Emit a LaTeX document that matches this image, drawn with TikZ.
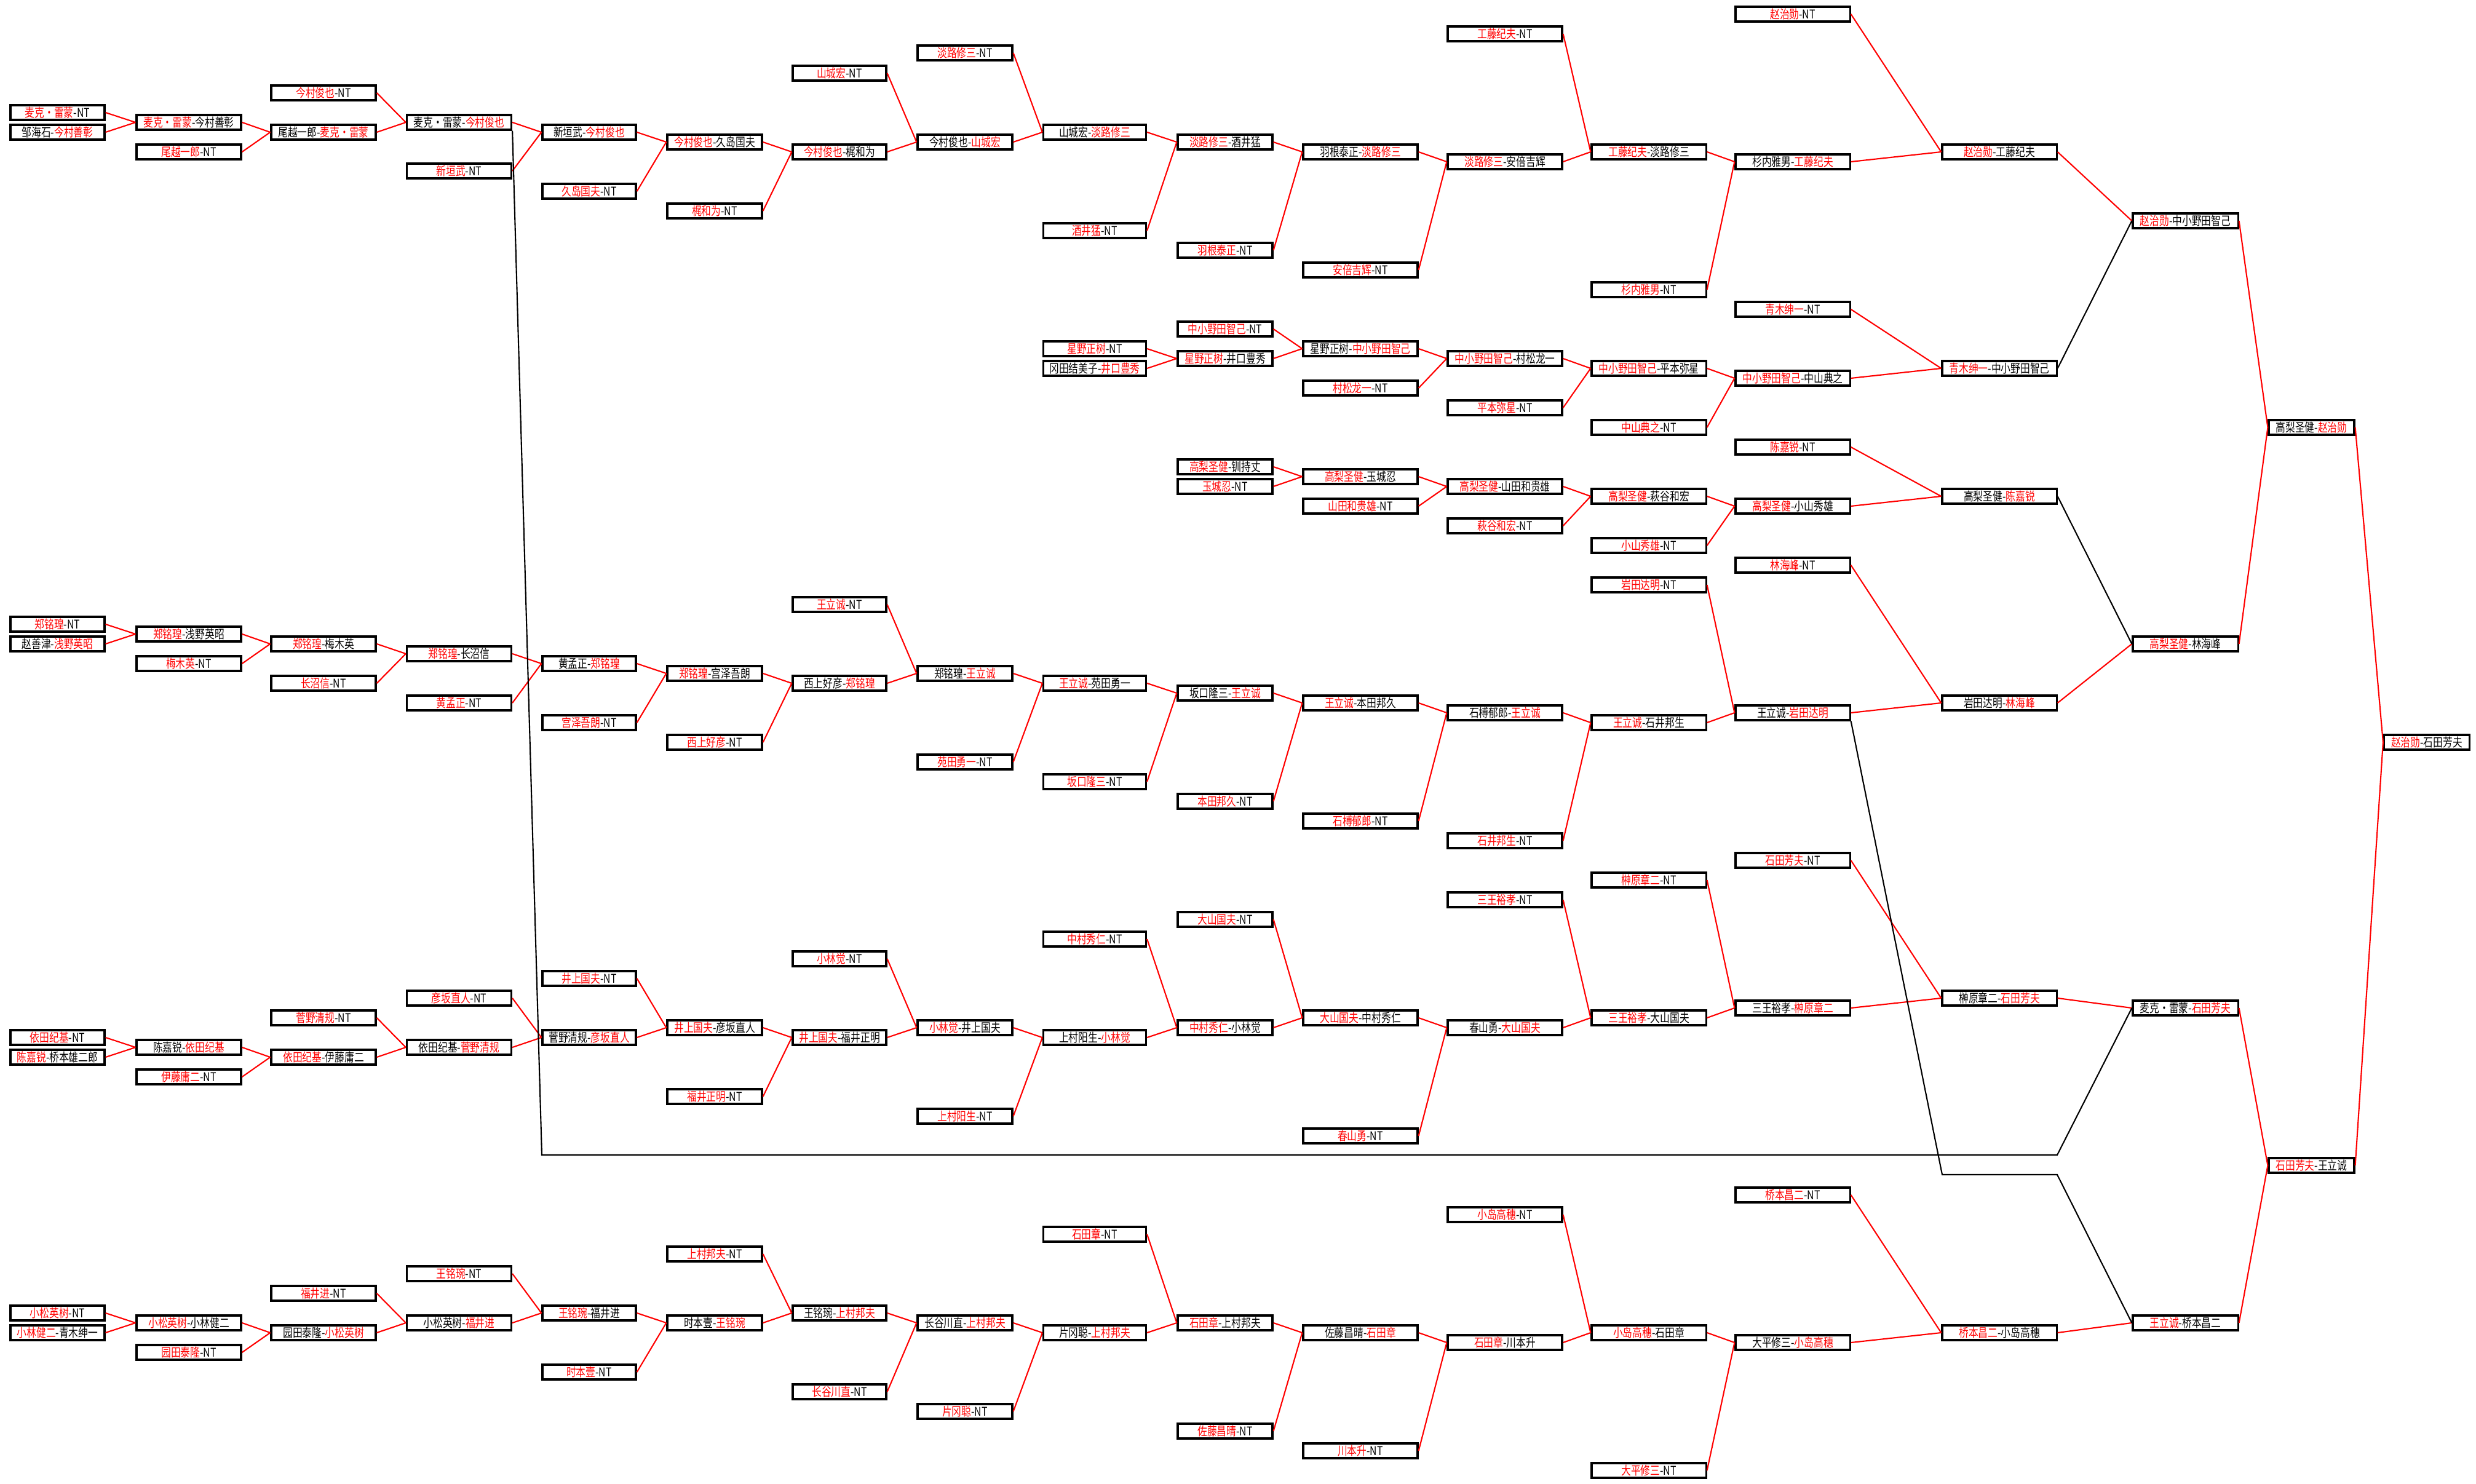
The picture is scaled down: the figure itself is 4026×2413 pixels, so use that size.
\documentclass[tikz,border=0pt]{standalone}
\usepackage{fontspec}
\setmainfont[FakeStretch=0.8]{Noto Sans CJK SC}
\usepackage{tikz}
\newcommand{\winner}[1]{\textcolor{red}{#1}}
\usetikzlibrary{positioning}
\tikzstyle{pbox} = [draw=black, line width=0.9pt, fill=white, rectangle, inner sep=0pt, minimum height=0.24cm, font=\fontsize{5.6}{6}\selectfont]
\tikzstyle{won} = [draw=red, line width=0.6pt]
\tikzstyle{lost} = [draw=black, line width=0.6pt]
\tikzstyle{w1} = [pbox, minimum width=1.53cm]
\tikzstyle{w2} = [pbox, minimum width=1.70cm]
\tikzstyle{w5} = [pbox, minimum width=1.52cm]
\tikzstyle{w6} = [pbox, minimum width=1.54cm]
\tikzstyle{w9} = [pbox, minimum width=1.67cm]
\tikzstyle{w11} = [pbox, minimum width=1.86cm]
\tikzstyle{w16} = [pbox, minimum width=1.71cm]
\tikzstyle{w17} = [pbox, minimum width=1.39cm]

\begin{document}
\begin{tikzpicture}[x=0.01cm, y=-0.01cm]
	\fill[white] (0,0) rectangle (4026,2413);
	\useasboundingbox (0,0) rectangle (4026,2413);
	% column 1
	\node[w1] (c1a) at (93.5,183) {\winner{麦克・雷蒙}-NT};
	\node[w1] (c1b) at (93.5,215) {邹海石-\winner{今村善彰}};
	\node[w1] (c1c) at (93.5,1015) {\winner{郑铭瑝}-NT};
	\node[w1] (c1d) at (93.5,1047) {赵善津-\winner{浅野英昭}};
	\node[w1] (c1e) at (93.5,1687) {\winner{依田纪基}-NT};
	\node[w1] (c1f) at (93.5,1719) {\winner{陈嘉锐}-桥本雄二郎};
	\node[w1] (c1g) at (93.5,2135) {\winner{小松英树}-NT};
	\node[w1] (c1h) at (93.5,2167) {\winner{小林健二}-青木绅一};
	% column 2
	\node[w2] (c2a) at (307,199) {\winner{麦克・雷蒙}-今村善彰};
	\node[w2] (c2b) at (307,247) {\winner{尾越一郎}-NT};
	\node[w2] (c2c) at (307,1031) {\winner{郑铭瑝}-浅野英昭};
	\node[w2] (c2d) at (307,1079) {\winner{梅木英}-NT};
	\node[w2] (c2e) at (307,1703) {陈嘉锐-\winner{依田纪基}};
	\node[w2] (c2f) at (307,1751) {\winner{伊藤庸二}-NT};
	\node[w2] (c2g) at (307,2151) {\winner{小松英树}-小林健二};
	\node[w2] (c2h) at (307,2199) {\winner{园田泰隆}-NT};
	% column 3
	\node[w2] (c3a) at (526,151) {\winner{今村俊也}-NT};
	\node[w2] (c3b) at (526,215) {尾越一郎-\winner{麦克・雷蒙}};
	\node[w2] (c3c) at (526,1047) {\winner{郑铭瑝}-梅木英};
	\node[w2] (c3d) at (526,1111) {\winner{长沼信}-NT};
	\node[w2] (c3e) at (526,1655) {\winner{菅野清规}-NT};
	\node[w2] (c3f) at (526,1719) {\winner{依田纪基}-伊藤庸二};
	\node[w2] (c3g) at (526,2103) {\winner{福井进}-NT};
	\node[w2] (c3h) at (526,2167) {园田泰隆-\winner{小松英树}};
	% column 4
	\node[w2] (c4a) at (746.5,199) {麦克・雷蒙-\winner{今村俊也}};
	\node[w2] (c4b) at (746.5,278) {\winner{新垣武}-NT};
	\node[w2] (c4c) at (746.5,1063) {\winner{郑铭瑝}-长沼信};
	\node[w2] (c4d) at (746.5,1143) {\winner{黄孟正}-NT};
	\node[w2] (c4e) at (746.5,1623) {\winner{彦坂直人}-NT};
	\node[w2] (c4f) at (746.5,1703) {依田纪基-\winner{菅野清规}};
	\node[w2] (c4g) at (746.5,2071) {\winner{王铭琬}-NT};
	\node[w2] (c4h) at (746.5,2151) {小松英树-\winner{福井进}};
	% column 5
	\node[w5] (c5a) at (958,215) {新垣武-\winner{今村俊也}};
	\node[w5] (c5b) at (958,311) {\winner{久岛国夫}-NT};
	\node[w5] (c5c) at (958,1079) {黄孟正-\winner{郑铭瑝}};
	\node[w5] (c5d) at (958,1175) {\winner{宫泽吾朗}-NT};
	\node[w5] (c5e) at (958,1591) {\winner{井上国夫}-NT};
	\node[w5] (c5f) at (958,1687) {菅野清规-\winner{彦坂直人}};
	\node[w5] (c5g) at (958,2135) {\winner{王铭琬}-福井进};
	\node[w5] (c5h) at (958,2231) {\winner{时本壹}-NT};
	% column 6
	\node[w6] (c6a) at (1162,231) {\winner{今村俊也}-久岛国夫};
	\node[w6] (c6b) at (1162,343) {\winner{梶和为}-NT};
	\node[w6] (c6c) at (1162,1095) {\winner{郑铭瑝}-宫泽吾朗};
	\node[w6] (c6d) at (1162,1207) {\winner{西上好彦}-NT};
	\node[w6] (c6e) at (1162,1671) {\winner{井上国夫}-彦坂直人};
	\node[w6] (c6f) at (1162,1783) {\winner{福井正明}-NT};
	\node[w6] (c6g) at (1162,2039) {\winner{上村邦夫}-NT};
	\node[w6] (c6h) at (1162,2151) {时本壹-\winner{王铭琬}};
	% column 7
	\node[w5] (c7a) at (1365,119) {\winner{山城宏}-NT};
	\node[w5] (c7b) at (1365,247) {\winner{今村俊也}-梶和为};
	\node[w5] (c7c) at (1365,983) {\winner{王立诚}-NT};
	\node[w5] (c7d) at (1365,1111) {西上好彦-\winner{郑铭瑝}};
	\node[w5] (c7e) at (1365,1559) {\winner{小林觉}-NT};
	\node[w5] (c7f) at (1365,1687) {\winner{井上国夫}-福井正明};
	\node[w5] (c7g) at (1365,2135) {王铭琬-\winner{上村邦夫}};
	\node[w5] (c7h) at (1365,2263) {\winner{长谷川直}-NT};
	% column 8
	\node[w6] (c8a) at (1569,86) {\winner{淡路修三}-NT};
	\node[w6] (c8b) at (1569,231) {今村俊也-\winner{山城宏}};
	\node[w6] (c8c) at (1569,1095) {郑铭瑝-\winner{王立诚}};
	\node[w6] (c8d) at (1569,1239) {\winner{苑田勇一}-NT};
	\node[w6] (c8e) at (1569,1671) {\winner{小林觉}-井上国夫};
	\node[w6] (c8f) at (1569,1815) {\winner{上村阳生}-NT};
	\node[w6] (c8g) at (1569,2151) {长谷川直-\winner{上村邦夫}};
	\node[w6] (c8h) at (1569,2295) {\winner{片冈聪}-NT};
	% column 9
	\node[w9] (c9a) at (1780,215) {山城宏-\winner{淡路修三}};
	\node[w9] (c9b) at (1780,375) {\winner{酒井猛}-NT};
	\node[w9] (c9c) at (1780,567) {\winner{星野正树}-NT};
	\node[w9] (c9d) at (1780,599) {冈田结美子-\winner{井口豊秀}};
	\node[w9] (c9e) at (1780,1111) {\winner{王立诚}-苑田勇一};
	\node[w9] (c9f) at (1780,1271) {\winner{坂口隆三}-NT};
	\node[w9] (c9g) at (1780,1527) {\winner{中村秀仁}-NT};
	\node[w9] (c9h) at (1780,1687) {上村阳生-\winner{小林觉}};
	\node[w9] (c9i) at (1780,2007) {\winner{石田章}-NT};
	\node[w9] (c9j) at (1780,2167) {片冈聪-\winner{上村邦夫}};
	% column 10
	\node[w6] (c10a) at (1992,231) {\winner{淡路修三}-酒井猛};
	\node[w6] (c10b) at (1992,407) {\winner{羽根泰正}-NT};
	\node[w6] (c10c) at (1992,535) {\winner{中小野田智己}-NT};
	\node[w6] (c10d) at (1992,583) {\winner{星野正树}-井口豊秀};
	\node[w6] (c10e) at (1992,759) {\winner{高梨圣健}-钏持丈};
	\node[w6] (c10f) at (1992,791) {\winner{玉城忍}-NT};
	\node[w6] (c10g) at (1992,1127) {坂口隆三-\winner{王立诚}};
	\node[w6] (c10h) at (1992,1303) {\winner{本田邦久}-NT};
	\node[w6] (c10i) at (1992,1495) {\winner{大山国夫}-NT};
	\node[w6] (c10j) at (1992,1671) {\winner{中村秀仁}-小林觉};
	\node[w6] (c10k) at (1992,2151) {\winner{石田章}-上村邦夫};
	\node[w6] (c10l) at (1992,2327) {\winner{佐藤昌晴}-NT};
	% column 11
	\node[w11] (c11a) at (2212,247) {羽根泰正-\winner{淡路修三}};
	\node[w11] (c11b) at (2212,439) {\winner{安倍吉辉}-NT};
	\node[w11] (c11c) at (2212,567) {星野正树-\winner{中小野田智己}};
	\node[w11] (c11d) at (2212,631) {\winner{村松龙一}-NT};
	\node[w11] (c11e) at (2212,775) {\winner{高梨圣健}-玉城忍};
	\node[w11] (c11f) at (2212,823) {\winner{山田和贵雄}-NT};
	\node[w11] (c11g) at (2212,1143) {\winner{王立诚}-本田邦久};
	\node[w11] (c11h) at (2212,1335) {\winner{石榑郁郎}-NT};
	\node[w11] (c11i) at (2212,1655) {\winner{大山国夫}-中村秀仁};
	\node[w11] (c11j) at (2212,1847) {\winner{春山勇}-NT};
	\node[w11] (c11k) at (2212,2167) {佐藤昌晴-\winner{石田章}};
	\node[w11] (c11l) at (2212,2359) {\winner{川本升}-NT};
	% column 12
	\node[w11] (c12a) at (2447,55) {\winner{工藤纪夫}-NT};
	\node[w11] (c12b) at (2447,263) {\winner{淡路修三}-安倍吉辉};
	\node[w11] (c12c) at (2447,583) {\winner{中小野田智己}-村松龙一};
	\node[w11] (c12d) at (2447,663) {\winner{平本弥星}-NT};
	\node[w11] (c12e) at (2447,791) {\winner{高梨圣健}-山田和贵雄};
	\node[w11] (c12f) at (2447,855) {\winner{萩谷和宏}-NT};
	\node[w11] (c12g) at (2447,1159) {石榑郁郎-\winner{王立诚}};
	\node[w11] (c12h) at (2447,1367) {\winner{石井邦生}-NT};
	\node[w11] (c12i) at (2447,1463) {\winner{三王裕孝}-NT};
	\node[w11] (c12j) at (2447,1671) {春山勇-\winner{大山国夫}};
	\node[w11] (c12k) at (2447,1975) {\winner{小岛高穗}-NT};
	\node[w11] (c12l) at (2447,2183) {\winner{石田章}-川本升};
	% column 13
	\node[w11] (c13a) at (2681,247) {\winner{工藤纪夫}-淡路修三};
	\node[w11] (c13b) at (2681,471) {\winner{杉内雅男}-NT};
	\node[w11] (c13c) at (2681,599) {\winner{中小野田智己}-平本弥星};
	\node[w11] (c13d) at (2681,695) {\winner{中山典之}-NT};
	\node[w11] (c13e) at (2681,807) {\winner{高梨圣健}-萩谷和宏};
	\node[w11] (c13f) at (2681,887) {\winner{小山秀雄}-NT};
	\node[w11] (c13g) at (2681,951) {\winner{岩田达明}-NT};
	\node[w11] (c13h) at (2681,1175) {\winner{王立诚}-石井邦生};
	\node[w11] (c13i) at (2681,1431) {\winner{榊原章二}-NT};
	\node[w11] (c13j) at (2681,1655) {\winner{三王裕孝}-大山国夫};
	\node[w11] (c13k) at (2681,2167) {\winner{小岛高穗}-石田章};
	\node[w11] (c13l) at (2681,2391) {\winner{大平修三}-NT};
	% column 14
	\node[w11] (c14a) at (2915,23) {\winner{赵治勋}-NT};
	\node[w11] (c14b) at (2915,263) {杉内雅男-\winner{工藤纪夫}};
	\node[w11] (c14c) at (2915,503) {\winner{青木绅一}-NT};
	\node[w11] (c14d) at (2915,615) {\winner{中小野田智己}-中山典之};
	\node[w11] (c14e) at (2915,727) {\winner{陈嘉锐}-NT};
	\node[w11] (c14f) at (2915,823) {\winner{高梨圣健}-小山秀雄};
	\node[w11] (c14g) at (2915,919) {\winner{林海峰}-NT};
	\node[w11] (c14h) at (2915,1159) {王立诚-\winner{岩田达明}};
	\node[w11] (c14i) at (2915,1399) {\winner{石田芳夫}-NT};
	\node[w11] (c14j) at (2915,1639) {三王裕孝-\winner{榊原章二}};
	\node[w11] (c14k) at (2915,1943) {\winner{桥本昌二}-NT};
	\node[w11] (c14l) at (2915,2183) {大平修三-\winner{小岛高穗}};
	% column 15
	\node[w11] (c15a) at (3251,247) {\winner{赵治勋}-工藤纪夫};
	\node[w11] (c15b) at (3251,599) {\winner{青木绅一}-中小野田智己};
	\node[w11] (c15c) at (3251,807) {高梨圣健-\winner{陈嘉锐}};
	\node[w11] (c15d) at (3251,1143) {岩田达明-\winner{林海峰}};
	\node[w11] (c15e) at (3251,1623) {榊原章二-\winner{石田芳夫}};
	\node[w11] (c15f) at (3251,2167) {\winner{桥本昌二}-小岛高穗};
	% column 16
	\node[w16] (c16a) at (3553.5,359) {\winner{赵治勋}-中小野田智己};
	\node[w16] (c16b) at (3553.5,1047) {\winner{高梨圣健}-林海峰};
	\node[w16] (c16c) at (3553.5,1639) {麦克・雷蒙-\winner{石田芳夫}};
	\node[w16] (c16d) at (3553.5,2151) {\winner{王立诚}-桥本昌二};
	% columns 17 and 18
	\node[w17] (c17a) at (3758.5,695) {高梨圣健-\winner{赵治勋}};
	\node[w17] (c17b) at (3758.5,1895) {\winner{石田芳夫}-王立诚};
	\node[w17] (c18a) at (3946,1207) {\winner{赵治勋}-石田芳夫};
	% upper bracket: 麦克 / 今村 / 淡路 / 工藤 / 赵
	\draw[won] (c1a.east) -- (c2a.west) (c1b.east) -- (c2a.west)
		(c2a.east) -- (c3b.west) (c2b.east) -- (c3b.west)
		(c3a.east) -- (c4a.west) (c3b.east) -- (c4a.west)
		(c4a.east) -- (c5a.west) (c4b.east) -- (c5a.west)
		(c5a.east) -- (c6a.west) (c5b.east) -- (c6a.west)
		(c6a.east) -- (c7b.west) (c6b.east) -- (c7b.west)
		(c7a.east) -- (c8b.west) (c7b.east) -- (c8b.west)
		(c8a.east) -- (c9a.west) (c8b.east) -- (c9a.west)
		(c9a.east) -- (c10a.west) (c9b.east) -- (c10a.west)
		(c10a.east) -- (c11a.west) (c10b.east) -- (c11a.west)
		(c11a.east) -- (c12b.west) (c11b.east) -- (c12b.west)
		(c12a.east) -- (c13a.west) (c12b.east) -- (c13a.west)
		(c13a.east) -- (c14b.west) (c13b.east) -- (c14b.west)
		(c14a.east) -- (c15a.west) (c14b.east) -- (c15a.west)
		(c15a.east) -- (c16a.west);
	% 中小野田
	\draw[won] (c9c.east) -- (c10d.west) (c9d.east) -- (c10d.west)
		(c10c.east) -- (c11c.west) (c10d.east) -- (c11c.west)
		(c11c.east) -- (c12c.west) (c11d.east) -- (c12c.west)
		(c12c.east) -- (c13c.west) (c12d.east) -- (c13c.west)
		(c13c.east) -- (c14d.west) (c13d.east) -- (c14d.west)
		(c14c.east) -- (c15b.west) (c14d.east) -- (c15b.west);
	% 高梨
	\draw[won] (c10e.east) -- (c11e.west) (c10f.east) -- (c11e.west)
		(c11e.east) -- (c12e.west) (c11f.east) -- (c12e.west)
		(c12e.east) -- (c13e.west) (c12f.east) -- (c13e.west)
		(c13e.east) -- (c14f.west) (c13f.east) -- (c14f.west)
		(c14e.east) -- (c15c.west) (c14f.east) -- (c15c.west)
		(c15d.east) -- (c16b.west)
		(c16a.east) -- (c17a.west) (c16b.east) -- (c17a.west);
	% 郑 / 王立诚
	\draw[won] (c1c.east) -- (c2c.west) (c1d.east) -- (c2c.west)
		(c2c.east) -- (c3c.west) (c2d.east) -- (c3c.west)
		(c3c.east) -- (c4c.west) (c3d.east) -- (c4c.west)
		(c4c.east) -- (c5c.west) (c4d.east) -- (c5c.west)
		(c5c.east) -- (c6c.west) (c5d.east) -- (c6c.west)
		(c6c.east) -- (c7d.west) (c6d.east) -- (c7d.west)
		(c7c.east) -- (c8c.west) (c7d.east) -- (c8c.west)
		(c8c.east) -- (c9e.west) (c8d.east) -- (c9e.west)
		(c9e.east) -- (c10g.west) (c9f.east) -- (c10g.west)
		(c10g.east) -- (c11g.west) (c10h.east) -- (c11g.west)
		(c11g.east) -- (c12g.west) (c11h.east) -- (c12g.west)
		(c12g.east) -- (c13h.west) (c12h.east) -- (c13h.west)
		(c13g.east) -- (c14h.west) (c13h.east) -- (c14h.west)
		(c14g.east) -- (c15d.west) (c14h.east) -- (c15d.west);
	% 依田 / 井上 / 大山
	\draw[won] (c1e.east) -- (c2e.west) (c1f.east) -- (c2e.west)
		(c2e.east) -- (c3f.west) (c2f.east) -- (c3f.west)
		(c3e.east) -- (c4f.west) (c3f.east) -- (c4f.west)
		(c4e.east) -- (c5f.west) (c4f.east) -- (c5f.west)
		(c5e.east) -- (c6e.west) (c5f.east) -- (c6e.west)
		(c6e.east) -- (c7f.west) (c6f.east) -- (c7f.west)
		(c7e.east) -- (c8e.west) (c7f.east) -- (c8e.west)
		(c8e.east) -- (c9h.west) (c8f.east) -- (c9h.west)
		(c9g.east) -- (c10j.west) (c9h.east) -- (c10j.west)
		(c10i.east) -- (c11i.west) (c10j.east) -- (c11i.west)
		(c11i.east) -- (c12j.west) (c11j.east) -- (c12j.west)
		(c12i.east) -- (c13j.west) (c12j.east) -- (c13j.west)
		(c13i.east) -- (c14j.west) (c13j.east) -- (c14j.west)
		(c14i.east) -- (c15e.west) (c14j.east) -- (c15e.west)
		(c15e.east) -- (c16c.west);
	% 小松 / 上村 / 石田章
	\draw[won] (c1g.east) -- (c2g.west) (c1h.east) -- (c2g.west)
		(c2g.east) -- (c3h.west) (c2h.east) -- (c3h.west)
		(c3g.east) -- (c4h.west) (c3h.east) -- (c4h.west)
		(c4g.east) -- (c5g.west) (c4h.east) -- (c5g.west)
		(c5g.east) -- (c6h.west) (c5h.east) -- (c6h.west)
		(c6g.east) -- (c7g.west) (c6h.east) -- (c7g.west)
		(c7g.east) -- (c8g.west) (c7h.east) -- (c8g.west)
		(c8g.east) -- (c9j.west) (c8h.east) -- (c9j.west)
		(c9i.east) -- (c10k.west) (c9j.east) -- (c10k.west)
		(c10k.east) -- (c11k.west) (c10l.east) -- (c11k.west)
		(c11k.east) -- (c12l.west) (c11l.east) -- (c12l.west)
		(c12k.east) -- (c13k.west) (c12l.east) -- (c13k.west)
		(c13k.east) -- (c14l.west) (c13l.east) -- (c14l.west)
		(c14k.east) -- (c15f.west) (c14l.east) -- (c15f.west)
		(c15f.east) -- (c16d.west);
	% finals
	\draw[won] (c16c.east) -- (c17b.west) (c16d.east) -- (c17b.west)
		(c17a.east) -- (c18a.west) (c17b.east) -- (c18a.west);
	% losers
	\coordinate (dropA) at (881,1878);
	\coordinate (turnA) at (3345,1878);
	\coordinate (dropB) at (3158,1910);
	\coordinate (turnB) at (3345,1910);
	\draw[lost] (c15b.east) -- (c16a.west) (c15c.east) -- (c16b.west);
	\draw[lost] (c4a.south east) -- (dropA) -- (turnA) -- (c16c.west);
	\draw[lost] (c14h.south east) -- (dropB) -- (turnB) -- (c16d.west);
\end{tikzpicture}
\end{document}
